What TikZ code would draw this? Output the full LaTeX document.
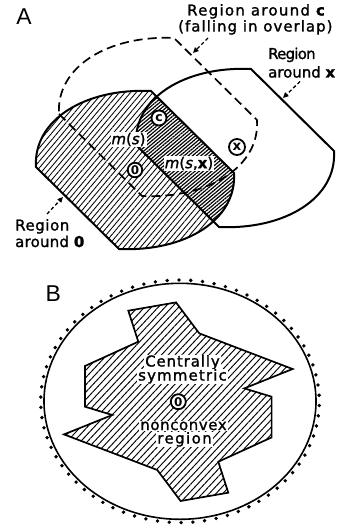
\documentclass[tikz,border=0pt]{standalone}
\usepackage{fontspec}
\setmainfont{DejaVu Sans}
\newfontfamily\labfont[FakeBold=1.4]{DejaVu Sans}
\newfontfamily\markfont{DejaVu Sans}
\newfontfamily\panelfont{Liberation Sans}
\usetikzlibrary{patterns.meta,arrows.meta}
\newcommand\labsz[1]{\labfont\fontsize{15}{17}\selectfont\addfontfeature{LetterSpace=#1}}
\newcommand\marksz[1]{\markfont\bfseries\fontsize{#1}{#1}\selectfont}
\def\regshape{(-99,-3) -- (-16,79) .. controls (50,82) and (102,50) .. (99,3) -- (16,-79) .. controls (-50,-82) and (-102,-50) .. (-99,-3) -- cycle}
\def\polyB{(-50,-91) -- (-2.3,-99.3) -- (21,-68.3) -- (114.3,-32.7) -- (66,-13.3) -- (93.3,-5) -- (93.3,35.7) -- (40,60) -- (50,91) -- (2.3,99.3) -- (-21,68.3) -- (-114.3,32.7) -- (-66,13.3) -- (-93.3,5) -- (-93.3,-35.7) -- (-40,-60) -- cycle}
\begin{document}
\begin{tikzpicture}[x=1bp,y=-1bp,
  outline/.style={line width=2bp, line join=round},
  lighthatch/.style={pattern={Lines[angle=50,distance=4.3pt,line width=0.85pt]}},
  densehatch/.style={pattern={Lines[angle=40,distance=2.7pt,line width=1.2pt]}},
  bhatch/.style={pattern={Lines[angle=47,distance=5pt,line width=0.95pt]}},
  dashline/.style={line width=1.7bp, dash pattern=on 9bp off 5bp},
  pointer/.style={line width=1.3bp, dash pattern=on 3.5bp off 2.5bp, -{Triangle[length=5.5bp,width=5bp]}},
  ringnode/.style={circle, draw, line width=1.8bp, fill=white, inner sep=0pt, minimum size=#1},
  whitelab/.style={fill=white, inner xsep=1bp, inner ysep=0.5bp},
  ]
\useasboundingbox (0,0) rectangle (337,528);
\fill[white] (0,0) rectangle (337,528);

% ---------- Panel A ----------
\path[lighthatch, shift={(135,170)}] \regshape;
\begin{scope}
  \clip[shift={(135,170)}] \regshape;
  \fill[white, shift={(235,148)}] \regshape;
  \path[densehatch, shift={(235,148)}] \regshape;
\end{scope}
\draw[outline, shift={(135,170)}] \regshape;
\draw[outline, shift={(235,148)}] \regshape;
\draw[dashline, shift={(158,117)}] \regshape;

\node[whitelab, font=\labsz{0}] (ms) at (128.5,139.5) {{\itshape m}({\itshape s})};
\node[whitelab, font=\labsz{0}] (msx) at (189,163.5) {{\itshape m}({\itshape s},{\bfseries x})};

\node[ringnode=15bp, font=\marksz{12.5}] (mc) at (159,118) {c};
\node[ringnode=14.5bp, font=\marksz{12}] (m0) at (135,170) {0};
\node[ringnode=16bp, font=\marksz{13.5}] (mx) at (237,147) {x};

\node[font=\panelfont\fontsize{23}{23}\selectfont, inner sep=0pt] (lA) at (24,16.7) {A};

\node[anchor=base west, inner sep=0pt, font=\labsz{8.7}] (tc1) at (187,15.5) {Region around {\bfseries c}};
\node[anchor=base west, inner sep=0pt, font=\labsz{6.9}] (tc2) at (178,31.5) {(falling in overlap)};
\node[anchor=base west, inner sep=0pt, font=\labsz{-5}] (tx1) at (268,59) {Region};
\node[anchor=base west, inner sep=0pt, font=\labsz{0}] (tx2) at (268,77.5) {around {\bfseries x}};
\node[anchor=base west, inner sep=0pt, font=\labsz{4}] (to1) at (15,230.5) {Region};
\node[anchor=base west, inner sep=0pt, font=\labsz{1.6}] (to2) at (15,247) {around {\bfseries 0}};

\coordinate (pc0) at (208,38);  \coordinate (pc1) at (193,53);
\coordinate (px0) at (300,81.5);  \coordinate (px1) at (283,98);
\coordinate (po0) at (47,214);  \coordinate (po1) at (63,197);
\draw[pointer] (pc0) -- (pc1);
\draw[pointer] (px0) -- (px1);
\draw[pointer] (po0) -- (po1);

% ---------- Panel B ----------
\node[font=\panelfont\fontsize{23}{23}\selectfont, inner sep=0pt] (lB) at (53.3,293.3) {B};
\path[bhatch, shift={(178.3,401.7)}] \polyB;
\draw[outline, line width=1.7bp, line join=miter, shift={(178.3,401.7)}] \polyB;
\draw[line width=1.6bp] (180,401.3) ellipse [x radius=136, y radius=118];
\foreach \i in {0,...,73}{
  \fill ({180+139.3*cos(\i*4.86486+2)},{401.3+121.3*sin(\i*4.86486+2)}) circle (1.9);
}
\node[whitelab, anchor=base, font=\labsz{6}] (bt1) at (182.5,366.5) {Centrally};
\node[whitelab, anchor=base, font=\labsz{7.8}] (bt2) at (182.5,380.5) {symmetric};
\node[whitelab, anchor=base, font=\labsz{4}] (bt3) at (183.5,430) {nonconvex};
\node[whitelab, anchor=base, font=\labsz{9.6}] (bt4) at (184.5,443.5) {region};
\node[ringnode=15bp, font=\marksz{12}] (b0) at (178.3,401.7) {0};
\end{tikzpicture}
\end{document}
